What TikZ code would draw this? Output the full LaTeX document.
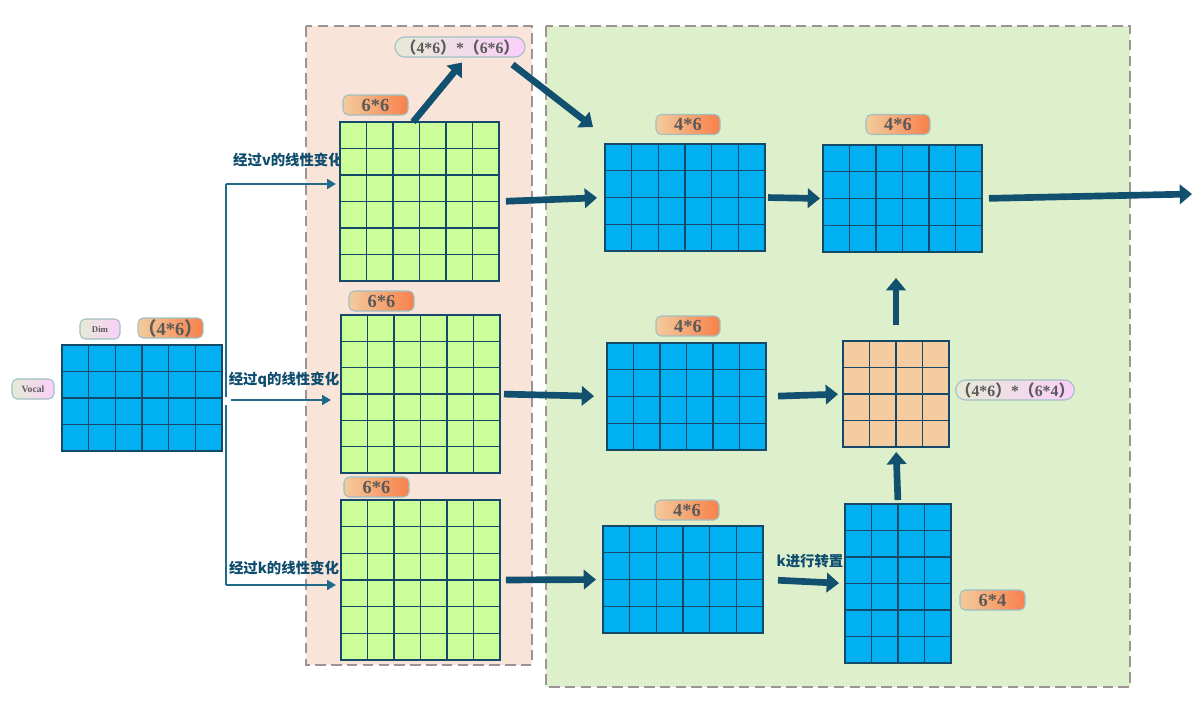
\documentclass[tikz,border=0pt]{standalone}
\usepackage{fontspec}
\setmainfont{Liberation Serif}
\newfontfamily\cjk{Noto Sans CJK SC}
\usetikzlibrary{arrows.meta,calc}
\definecolor{cellblue}{HTML}{00B0F0}
\definecolor{cellgreen}{HTML}{CCFF99}
\definecolor{cellorange}{HTML}{F4CCA0}
\definecolor{gridline}{HTML}{15496A}
\definecolor{pinkbg}{HTML}{F9E4DA}
\definecolor{greenbg}{HTML}{DEEFCB}
\definecolor{rim}{HTML}{9C9494}
\definecolor{navy}{HTML}{11506E}
\definecolor{steel}{HTML}{206A8A}
\definecolor{labtxt}{HTML}{0E4D6E}
\definecolor{pilltxt}{HTML}{5A5A5A}
\definecolor{pillrim}{HTML}{9FC0C2}
\definecolor{tagl}{HTML}{F3CB9D}
\definecolor{tagr}{HTML}{F8804A}
\definecolor{pilll}{HTML}{E6EAD6}
\definecolor{pillr}{HTML}{FBCFFB}
\tikzset{
  mat/.style={draw=gridline, line width=0.8pt, inner sep=0pt, outer sep=0pt},
  bmat/.style={mat, fill=cellblue, minimum width=3.2cm, minimum height=2.14cm},
  gmat/.style={mat, fill=cellgreen, minimum width=3.18cm, minimum height=3.18cm},
  tag/.style={draw=pillrim, line width=0.6pt, rounded corners=3pt, left color=tagl, right color=tagr,
    text=pilltxt, font=\bfseries\fontsize{10.5}{11}\selectfont, minimum width=1.3cm, minimum height=0.4cm, inner sep=0pt},
  pill/.style={draw=pillrim, line width=0.6pt, rounded corners=0.2cm, left color=pilll, right color=pillr,
    text=pilltxt, font=\bfseries\fontsize{9}{10}\selectfont, minimum height=0.4cm, inner sep=0pt},
  chip/.style={pill, rounded corners=3pt, font=\bfseries\fontsize{5}{6}\selectfont, minimum height=0.4cm},
  lab/.style={text=labtxt, font=\cjk\bfseries\fontsize{8.2}{9}\selectfont, inner sep=0pt},
  panel/.style={draw=rim, line width=0.9pt, dash pattern=on 6pt off 3pt},
  fat/.style={navy, line width=3.8pt, -{Triangle[length=7pt,width=11pt]}},
  link/.style={steel, line width=1.6pt, -{Triangle[length=5pt,width=5.5pt]}},
  bus/.style={steel, line width=1.6pt}
}
\newcommand\cellgrid[3]{%
  \foreach \i [evaluate=\i as \f using \i/#2] in {1,...,#2}
    \draw[gridline, line width=0.8pt] ($(#1.north west)!\f!(#1.north east)$) -- ($(#1.south west)!\f!(#1.south east)$);
  \foreach \j [evaluate=\j as \g using \j/#3] in {1,...,#3}
    \draw[gridline, line width=0.8pt] ($(#1.north west)!\g!(#1.south west)$) -- ($(#1.north east)!\g!(#1.south east)$);
}
\newcommand\lp{{\cjk （}}
\newcommand\rp{{\cjk ）}}
\begin{document}
\begin{tikzpicture}[x=0.02cm, y=-0.02cm]
  \useasboundingbox (0,0) rectangle (1195,707);
  \draw[panel, fill=pinkbg] (306,26) rectangle (532,665);
  \draw[panel, fill=greenbg] (546,26) rectangle (1130,687);

  \node[bmat, minimum height=2.12cm] (in) at (142,398) {};
  \cellgrid{in}{6}{4}
  \node[chip, minimum width=0.8cm] (dim) at (100,329) {Dim};
  \node[tag] (sz) at (170.5,328) {\lp 4*6\rp};
  \node[chip, minimum width=0.84cm, font=\bfseries\fontsize{5.5}{6}\selectfont] (voc) at (33,389) {Vocal};

  \node[lab] (lv) at (288,160) {经过v的线性变化};
  \node[lab] (lq) at (284,380) {经过q的线性变化};
  \node[lab] (lk) at (284,568) {经过k的线性变化};

  \node[gmat] (v) at (419.5,201.5) {};
  \cellgrid{v}{6}{6}
  \node[gmat, minimum height=3.16cm] (q) at (420.5,394) {};
  \cellgrid{q}{6}{6}
  \node[gmat, minimum height=3.2cm] (k) at (420.5,580) {};
  \cellgrid{k}{6}{6}
  \node[tag] (tv) at (375.5,105) {6*6};
  \node[tag] (tq) at (381.5,301) {6*6};
  \node[tag] (tk) at (376.5,487) {6*6};

  \node[pill, minimum width=2.6cm] (pr) at (460,47) {\lp 4*6\rp*\lp 6*6\rp};

  \node[bmat] (a) at (685,197.5) {};
  \cellgrid{a}{6}{4}
  \node[bmat, minimum width=3.18cm] (o) at (902.5,198.5) {};
  \cellgrid{o}{6}{4}
  \node[bmat, minimum width=3.18cm] (m) at (686.5,396.5) {};
  \cellgrid{m}{6}{4}
  \node[bmat] (b) at (683,579.5) {};
  \cellgrid{b}{6}{4}
  \node[tag, minimum width=1.28cm] (ta) at (688,124.5) {4*6};
  \node[tag, minimum width=1.28cm] (to) at (898,124.5) {4*6};
  \node[tag, minimum width=1.28cm] (tm) at (688,326) {4*6};
  \node[tag, minimum width=1.28cm] (tb) at (687,510) {4*6};

  \node[mat, fill=cellorange, minimum width=2.12cm, minimum height=2.12cm] (s) at (896,394) {};
  \cellgrid{s}{4}{4}
  \node[pill, minimum width=2.28cm] (ps) at (1015,390) {\lp 4*6\rp*\lp 6*4\rp};
  \node[mat, fill=cellblue, minimum width=2.12cm, minimum height=3.18cm] (t) at (898,583.5) {};
  \cellgrid{t}{4}{6}
  \node[tag] (tt) at (992.5,600) {6*4};
  \node[lab] (lt) at (810,561) {k进行转置};

  \coordinate (vt) at (226,184);
  \coordinate (qt) at (231,400);
  \coordinate (kt) at (226,585);
  \coordinate (out) at (1192,194);
  \draw[bus] (vt) -- (226,397) (226,405) -- (kt);
  \draw[link, shorten >=0.08cm] (vt) -- (vt -| v.west);
  \draw[link, shorten >=0.2cm] (qt) -- (qt -| q.west);
  \draw[link, shorten >=0.1cm] (kt) -- (kt -| k.west);

  \draw[fat] ([xshift=-0.13cm]v.north) -- ([shift={(0.04cm,-0.1cm)}]pr.south);
  \draw[fat] ([shift={(-0.26cm,-0.14cm)}]pr.south east) -- ([shift={(-0.24cm,0.34cm)}]a.north west);
  \draw[fat, shorten <=0.14cm, shorten >=0.16cm] (v.east) -- (a.west);
  \draw[fat, shorten <=0.08cm, shorten >=0.26cm] (q.east) -- (m.west);
  \draw[fat, shorten <=0.12cm, shorten >=0.14cm] (k.east) -- (b.west);
  \draw[fat, shorten <=0.06cm, shorten >=0.06cm] (a.east) -- (o.west);
  \draw[fat, shorten <=0.14cm] (o.east) -- (out);
  \draw[fat, shorten <=0.24cm, shorten >=0.1cm] (m.east) -- (s.west);
  \draw[fat, shorten <=0.3cm, shorten >=0.12cm] (b.east) -- (t.west);
  \draw[fat, shorten <=0.08cm, shorten >=0.1cm] (t.north) -- (s.south);
  \draw[fat, shorten <=0.32cm, shorten >=0.52cm] (s.north) -- (o.south -| s.north);
\end{tikzpicture}
\end{document}
